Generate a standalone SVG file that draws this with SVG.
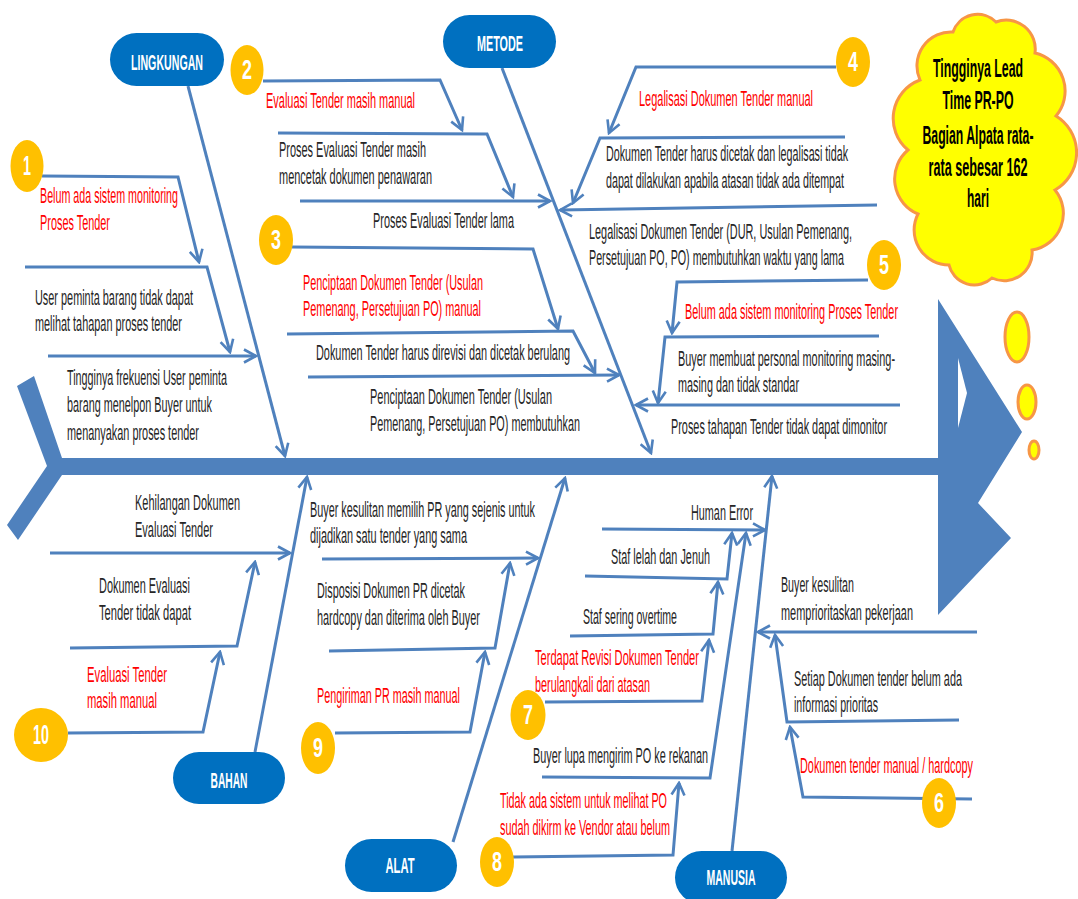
<svg xmlns="http://www.w3.org/2000/svg" width="1078" height="899" viewBox="0 0 1078 899">
<defs>
<marker id="arr" markerUnits="userSpaceOnUse" markerWidth="16" markerHeight="16" viewBox="0 0 16 16" refX="14" refY="8" orient="auto">
<path d="M2,1.5 L14,8 L2,14.5" fill="none" stroke="#4F81BD" stroke-width="2.6" stroke-linejoin="miter"/>
</marker>
</defs>
<style>
.bone{fill:none;stroke:#4F81BD;stroke-width:3;marker-end:url(#arr)}
.t{font-family:"Liberation Sans Narrow","Liberation Sans",Arial,sans-serif;font-size:22px;fill:#262626}
.r{fill:#FF0000}
.lbl{font-family:"Liberation Sans Narrow","Liberation Sans",Arial,sans-serif;font-size:22px;font-weight:bold;fill:#FFFFFF;text-anchor:middle}
.pill{fill:#0070C0}
.badge{fill:#FFC000}
.num{font-family:"Liberation Sans Narrow","Liberation Sans",Arial,sans-serif;font-size:27px;font-weight:bold;fill:#FFFFFF;text-anchor:middle}
.cloud{fill:#FFFF00;stroke:#F79646;stroke-width:3}
.ct{font-family:"Liberation Sans Narrow","Liberation Sans",Arial,sans-serif;font-size:25px;font-weight:bold;fill:#000000;text-anchor:middle}
.spine{fill:#4F81BD}
</style>
<rect width="1078" height="899" fill="#FFFFFF"/>

<g id="spine">
<polygon class="spine" points="17,386 34,376 62,458 62,475 18,540 7,525 47,466"/>
<rect class="spine" x="60" y="458" width="880" height="17"/>
<polygon class="spine" points="938,299 1022,432 978,503 1011,538 938,615"/>
<polygon fill="#FFFFFF" points="958,358 967,393 958,428"/>
</g>

<g id="connectors">
<path class="bone" d="M188,86 L285,456"/>
<path class="bone" d="M42,176 L178,177 L199,262"/>
<path class="bone" d="M25,267 L207,267 L230,352"/>
<path class="bone" d="M48,356 L256,356"/>
<path class="bone" d="M263,81 L440,80 L462,130"/>
<path class="bone" d="M278,133 L487,134 L513,197"/>
<path class="bone" d="M300,201 L550,201"/>
<path class="bone" d="M502,68 L651,453"/>
<path class="bone" d="M292,247 L533,249 L558,329"/>
<path class="bone" d="M287,334 L573,331 L595,373"/>
<path class="bone" d="M308,377 L619,375"/>
<path class="bone" d="M836,67 L636,67 L609,133"/>
<path class="bone" d="M845,137 L600,138 L573,203"/>
<path class="bone" d="M877,205 L560,210"/>
<path class="bone" d="M868,280 L677,282 L672,333"/>
<path class="bone" d="M879,336 L665,337 L658,403"/>
<path class="bone" d="M900,405 L636,405"/>
<path class="bone" d="M255,752 L307,477"/>
<path class="bone" d="M68,733 L203,732 L220,652"/>
<path class="bone" d="M70,648 L237,646 L255,562"/>
<path class="bone" d="M50,553 L290,553"/>
<path class="bone" d="M453,842 L565,478"/>
<path class="bone" d="M335,733 L470,732 L485,652"/>
<path class="bone" d="M329,651 L495,648 L510,563"/>
<path class="bone" d="M322,559 L538,558"/>
<path class="bone" d="M732,851 L772,476"/>
<path class="bone" d="M602,529 L765,530"/>
<path class="bone" d="M585,576 L727,579 L732,533"/>
<path class="bone" d="M570,636 L713,634 L718,582"/>
<path class="bone" d="M545,702 L702,701 L709,640"/>
<path class="bone" d="M542,777 L710,778 L746,533"/>
<path class="bone" d="M513,857 L673,855 L679,783"/>
<path class="bone" d="M972,799 L803,797 L790,727"/>
<path class="bone" d="M959,720 L787,722 L775,635"/>
<path class="bone" d="M977,632 L758,632"/>
</g>

<g id="node-lingkungan">
<rect class="pill" x="110" y="33" width="114" height="53" rx="26.5"/>
<text class="lbl" x="167" y="70" textLength="72" lengthAdjust="spacingAndGlyphs">LINGKUNGAN</text>
</g>
<g id="node-metode">
<rect class="pill" x="443" y="15" width="113" height="53" rx="26.5"/>
<text class="lbl" x="500" y="51" textLength="46" lengthAdjust="spacingAndGlyphs">METODE</text>
</g>
<g id="node-bahan">
<rect class="pill" x="173" y="752" width="112" height="52" rx="26"/>
<text class="lbl" x="229" y="788" textLength="37" lengthAdjust="spacingAndGlyphs">BAHAN</text>
</g>
<g id="node-alat">
<rect class="pill" x="345" y="839" width="112" height="53" rx="26.5"/>
<text class="lbl" x="400" y="873" textLength="29" lengthAdjust="spacingAndGlyphs">ALAT</text>
</g>
<g id="node-manusia">
<rect class="pill" x="675" y="851" width="112" height="53" rx="26.5"/>
<text class="lbl" x="731" y="885" textLength="49" lengthAdjust="spacingAndGlyphs">MANUSIA</text>
</g>

<g id="node-effect">
<path class="cloud" d="M908,150 A41,41 0 0 1 920,80 A34,34 0 0 1 953,32 A26,26 0 0 1 996,22 A29,29 0 0 1 1035,53 A39,39 0 0 1 1056,116 A43,43 0 0 1 1055,190 A37,37 0 0 1 1032,250 A28,28 0 0 1 992,278 A26,26 0 0 1 949,265 A35,35 0 0 1 918,214 A38,38 0 0 1 908,150 Z"/>
<ellipse class="cloud" cx="1017" cy="337" rx="12" ry="25"/>
<ellipse class="cloud" cx="1027" cy="402" rx="9" ry="17"/>
<ellipse class="cloud" cx="1034" cy="450" rx="5" ry="9"/>
<text class="ct" x="978" y="77" textLength="90" lengthAdjust="spacingAndGlyphs">Tingginya Lead</text>
<text class="ct" x="978" y="109" textLength="71" lengthAdjust="spacingAndGlyphs">Time PR-PO</text>
<text class="ct" x="978" y="144" textLength="111" lengthAdjust="spacingAndGlyphs">Bagian Alpata rata-</text>
<text class="ct" x="978" y="176" textLength="99" lengthAdjust="spacingAndGlyphs">rata sebesar 162</text>
<text class="ct" x="978" y="207" textLength="22" lengthAdjust="spacingAndGlyphs">hari</text>
</g>

<g id="node-1">
<ellipse class="badge" cx="27" cy="166" rx="16.5" ry="26"/>
<text class="num" x="27" y="175" textLength="8" lengthAdjust="spacingAndGlyphs">1</text>
</g>
<g id="node-2">
<ellipse class="badge" cx="247" cy="70" rx="16.5" ry="25"/>
<text class="num" x="247" y="79" textLength="10" lengthAdjust="spacingAndGlyphs">2</text>
</g>
<g id="node-3">
<ellipse class="badge" cx="276" cy="240" rx="17" ry="25"/>
<text class="num" x="276" y="249" textLength="10" lengthAdjust="spacingAndGlyphs">3</text>
</g>
<g id="node-4">
<ellipse class="badge" cx="853" cy="62" rx="17" ry="25"/>
<text class="num" x="853" y="71" textLength="10" lengthAdjust="spacingAndGlyphs">4</text>
</g>
<g id="node-5">
<ellipse class="badge" cx="884" cy="265" rx="17" ry="25"/>
<text class="num" x="884" y="274" textLength="10" lengthAdjust="spacingAndGlyphs">5</text>
</g>
<g id="node-6">
<ellipse class="badge" cx="939" cy="803" rx="17" ry="25"/>
<text class="num" x="939" y="812" textLength="10" lengthAdjust="spacingAndGlyphs">6</text>
</g>
<g id="node-7">
<ellipse class="badge" cx="528" cy="715" rx="17.5" ry="25"/>
<text class="num" x="528" y="724" textLength="10" lengthAdjust="spacingAndGlyphs">7</text>
</g>
<g id="node-8">
<ellipse class="badge" cx="497" cy="862" rx="17" ry="25"/>
<text class="num" x="497" y="871" textLength="10" lengthAdjust="spacingAndGlyphs">8</text>
</g>
<g id="node-9">
<ellipse class="badge" cx="318" cy="748" rx="17" ry="26"/>
<text class="num" x="318" y="757" textLength="10" lengthAdjust="spacingAndGlyphs">9</text>
</g>
<g id="node-10">
<ellipse class="badge" cx="41" cy="735" rx="27" ry="27"/>
<text class="num" x="41" y="744" textLength="16" lengthAdjust="spacingAndGlyphs">10</text>
</g>

<g id="causes-lingkungan">
<text class="t r" x="40" y="203" textLength="138" lengthAdjust="spacingAndGlyphs">Belum ada sistem monitoring</text>
<text class="t r" x="40" y="230" textLength="70" lengthAdjust="spacingAndGlyphs">Proses Tender</text>
<text class="t" x="35" y="305" textLength="158" lengthAdjust="spacingAndGlyphs">User peminta barang tidak dapat</text>
<text class="t" x="35" y="331" textLength="147" lengthAdjust="spacingAndGlyphs">melihat tahapan proses tender</text>
<text class="t" x="67" y="385" textLength="160" lengthAdjust="spacingAndGlyphs">Tingginya frekuensi User peminta</text>
<text class="t" x="67" y="412" textLength="145" lengthAdjust="spacingAndGlyphs">barang menelpon Buyer untuk</text>
<text class="t" x="67" y="440" textLength="132" lengthAdjust="spacingAndGlyphs">menanyakan proses tender</text>
</g>

<g id="causes-metode">
<text class="t r" x="266" y="108" textLength="149" lengthAdjust="spacingAndGlyphs">Evaluasi Tender masih manual</text>
<text class="t" x="279" y="157" textLength="147" lengthAdjust="spacingAndGlyphs">Proses Evaluasi Tender masih</text>
<text class="t" x="279" y="184" textLength="153" lengthAdjust="spacingAndGlyphs">mencetak dokumen penawaran</text>
<text class="t" x="373" y="228" textLength="141" lengthAdjust="spacingAndGlyphs">Proses Evaluasi Tender lama</text>
<text class="t r" x="303" y="290" textLength="180" lengthAdjust="spacingAndGlyphs">Penciptaan Dokumen Tender (Usulan</text>
<text class="t r" x="303" y="316" textLength="178" lengthAdjust="spacingAndGlyphs">Pemenang, Persetujuan PO) manual</text>
<text class="t" x="316" y="360" textLength="254" lengthAdjust="spacingAndGlyphs">Dokumen Tender harus direvisi dan dicetak berulang</text>
<text class="t" x="370" y="404" textLength="182" lengthAdjust="spacingAndGlyphs">Penciptaan Dokumen Tender (Usulan</text>
<text class="t" x="370" y="431" textLength="210" lengthAdjust="spacingAndGlyphs">Pemenang, Persetujuan PO) membutuhkan</text>
<text class="t r" x="639" y="106" textLength="174" lengthAdjust="spacingAndGlyphs">Legalisasi Dokumen Tender manual</text>
<text class="t" x="606" y="161" textLength="242" lengthAdjust="spacingAndGlyphs">Dokumen Tender harus dicetak dan legalisasi tidak</text>
<text class="t" x="606" y="188" textLength="238" lengthAdjust="spacingAndGlyphs">dapat dilakukan apabila atasan tidak ada ditempat</text>
<text class="t" x="589" y="239" textLength="263" lengthAdjust="spacingAndGlyphs">Legalisasi Dokumen Tender (DUR, Usulan Pemenang,</text>
<text class="t" x="589" y="265" textLength="255" lengthAdjust="spacingAndGlyphs">Persetujuan PO, PO) membutuhkan waktu yang lama</text>
<text class="t r" x="685" y="319" textLength="213" lengthAdjust="spacingAndGlyphs">Belum ada sistem monitoring  Proses Tender</text>
<text class="t" x="678" y="366" textLength="217" lengthAdjust="spacingAndGlyphs">Buyer membuat personal monitoring masing-</text>
<text class="t" x="678" y="392" textLength="121" lengthAdjust="spacingAndGlyphs">masing dan tidak  standar</text>
<text class="t" x="671" y="434" textLength="216" lengthAdjust="spacingAndGlyphs">Proses tahapan Tender tidak  dapat dimonitor</text>
</g>

<g id="causes-bahan">
<text class="t r" x="87" y="682" textLength="80" lengthAdjust="spacingAndGlyphs">Evaluasi Tender</text>
<text class="t r" x="87" y="708" textLength="70" lengthAdjust="spacingAndGlyphs">masih manual</text>
<text class="t" x="99" y="593" textLength="91" lengthAdjust="spacingAndGlyphs">Dokumen Evaluasi</text>
<text class="t" x="99" y="620" textLength="92" lengthAdjust="spacingAndGlyphs">Tender tidak dapat</text>
<text class="t" x="135" y="510" textLength="105" lengthAdjust="spacingAndGlyphs">Kehilangan Dokumen</text>
<text class="t" x="135" y="537" textLength="78" lengthAdjust="spacingAndGlyphs">Evaluasi Tender</text>
</g>

<g id="causes-alat">
<text class="t r" x="317" y="703" textLength="143" lengthAdjust="spacingAndGlyphs">Pengiriman PR masih manual</text>
<text class="t" x="317" y="598" textLength="148" lengthAdjust="spacingAndGlyphs">Disposisi Dokumen PR dicetak</text>
<text class="t" x="317" y="625" textLength="163" lengthAdjust="spacingAndGlyphs">hardcopy dan diterima oleh Buyer</text>
<text class="t" x="310" y="517" textLength="225" lengthAdjust="spacingAndGlyphs">Buyer kesulitan memilih PR yang sejenis untuk</text>
<text class="t" x="310" y="543" textLength="157" lengthAdjust="spacingAndGlyphs">dijadikan satu tender yang sama</text>
</g>

<g id="causes-manusia">
<text class="t" x="691" y="520" textLength="62" lengthAdjust="spacingAndGlyphs">Human Error</text>
<text class="t" x="611" y="564" textLength="99" lengthAdjust="spacingAndGlyphs">Staf lelah dan Jenuh</text>
<text class="t" x="583" y="624" textLength="94" lengthAdjust="spacingAndGlyphs">Staf  sering overtime</text>
<text class="t r" x="535" y="665" textLength="164" lengthAdjust="spacingAndGlyphs">Terdapat Revisi Dokumen Tender</text>
<text class="t r" x="535" y="692" textLength="115" lengthAdjust="spacingAndGlyphs">berulangkali dari atasan</text>
<text class="t" x="533" y="763" textLength="175" lengthAdjust="spacingAndGlyphs">Buyer lupa mengirim PO ke rekanan</text>
<text class="t r" x="500" y="808" textLength="167" lengthAdjust="spacingAndGlyphs">Tidak ada sistem untuk melihat PO</text>
<text class="t r" x="500" y="835" textLength="170" lengthAdjust="spacingAndGlyphs">sudah dikirm ke Vendor atau belum</text>
<text class="t r" x="800" y="773" textLength="173" lengthAdjust="spacingAndGlyphs">Dokumen tender manual / hardcopy</text>
<text class="t" x="794" y="686" textLength="168" lengthAdjust="spacingAndGlyphs">Setiap Dokumen tender belum ada</text>
<text class="t" x="794" y="712" textLength="84" lengthAdjust="spacingAndGlyphs">informasi prioritas</text>
<text class="t" x="781" y="592" textLength="73" lengthAdjust="spacingAndGlyphs">Buyer kesulitan</text>
<text class="t" x="781" y="620" textLength="132" lengthAdjust="spacingAndGlyphs">memprioritaskan pekerjaan</text>
</g>
</svg>
